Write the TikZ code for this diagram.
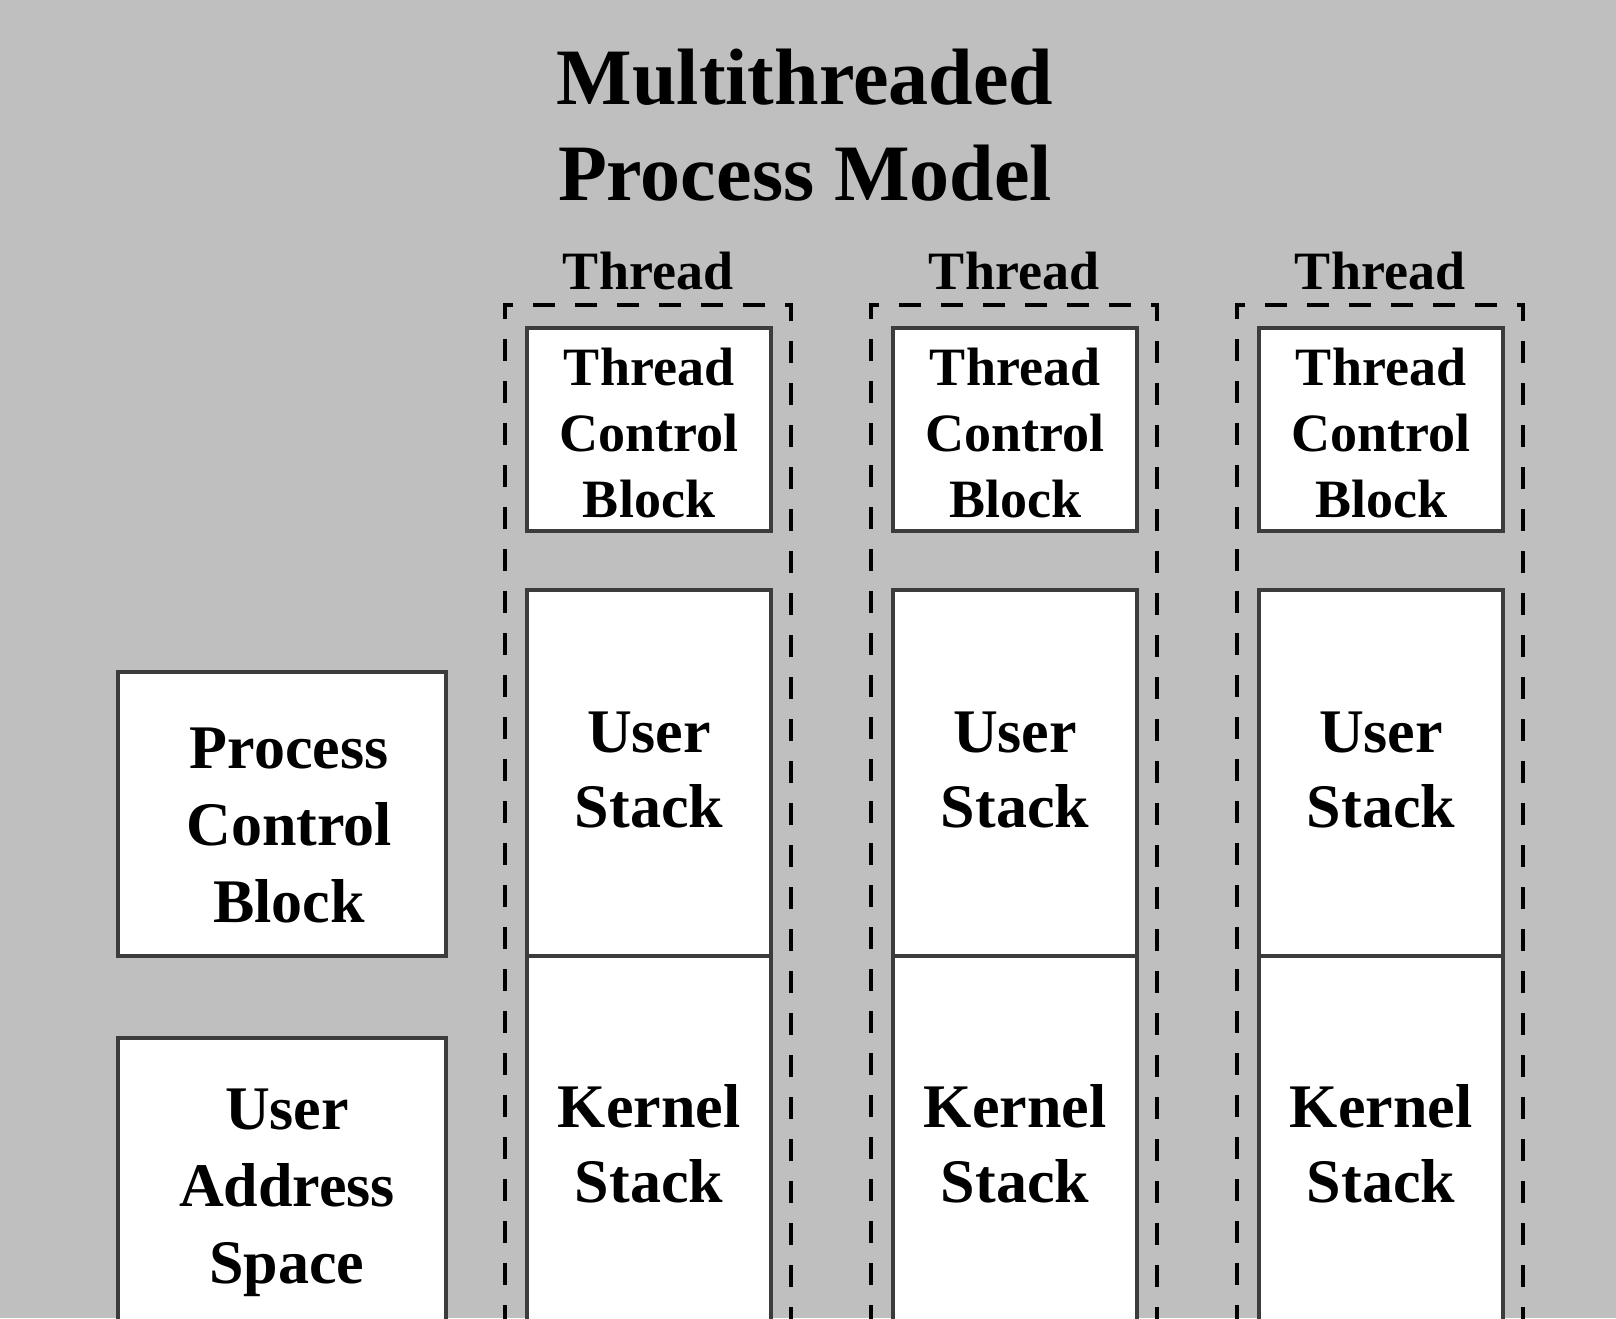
\documentclass[tikz,border=0pt]{standalone}
\usepackage{fontspec}
\setmainfont{Liberation Serif}
\definecolor{bgc}{RGB}{191,191,191}
\definecolor{edge}{RGB}{60,60,60}
\begin{document}
\begin{tikzpicture}[x=0.5pt,y=-0.5pt,
  box/.style={draw=edge,line width=2.2pt,fill=white,inner sep=0pt,outer sep=0pt,align=center,font=\bfseries},
  tcb/.style={box,minimum width=122pt,minimum height=101.5pt},
  stk/.style={box,minimum width=122pt,font=\fontsize{31}{37.5}\selectfont\bfseries},
  pbox/.style={box,minimum width=164pt},
  lbl/.style={inner sep=0pt,align=center},
  container/.style={draw=black,line width=1.6pt,dash pattern=on 11pt off 10pt,inner sep=0pt,outer sep=0pt,minimum width=143pt,minimum height=600pt},
  hdr/.style={inner sep=0pt,font=\fontsize{27}{33}\selectfont\bfseries}]
\useasboundingbox (0,0) rectangle (1616,1318);
\fill[bgc] (0,0) rectangle (1616,1318);
\begin{scope}
\clip (0,0) rectangle (1616,1318);
\node[lbl,font=\fontsize{40}{48}\selectfont\bfseries] (title) at (805,125) {Multithreaded\\Process Model};
\node[pbox,minimum height=142pt] (pcb) at (282,814) {};
\node[lbl,font=\fontsize{31}{38.5}\selectfont\bfseries] (pcbt) at (289,825) {Process\\Control\\Block};
\node[pbox,minimum height=150pt,anchor=north] (uas) at (282,1038) {};
\node[lbl,font=\fontsize{31}{38.5}\selectfont\bfseries] (uast) at (287,1193) {User\\Address\\Space};
\foreach \i/\c in {1/648,2/1014,3/1380}{
  \node[container,anchor=north] (th\i) at (\c,305) {};
  \node[hdr] (hd\i) at (\c,271) {Thread};
  \node[tcb] (tcb\i) at (\c+1,429.5) {};
  \node[lbl,font=\fontsize{27}{33}\selectfont\bfseries] (tcbt\i) at (\c+1,433) {Thread\\Control\\Block};
  \node[stk,minimum height=188pt,anchor=north] (ks\i) at (\c+1,956) {};
  \node[lbl,font=\fontsize{31}{37.5}\selectfont\bfseries] (kst\i) at (\c+1,1144) {Kernel\\Stack};
  \node[stk,minimum height=183pt] (us\i) at (\c+1,773) {};
  \node[lbl,font=\fontsize{31}{37.5}\selectfont\bfseries] (ust\i) at (\c+1,770) {User\\Stack};
}
\end{scope}
\end{tikzpicture}
\end{document}
